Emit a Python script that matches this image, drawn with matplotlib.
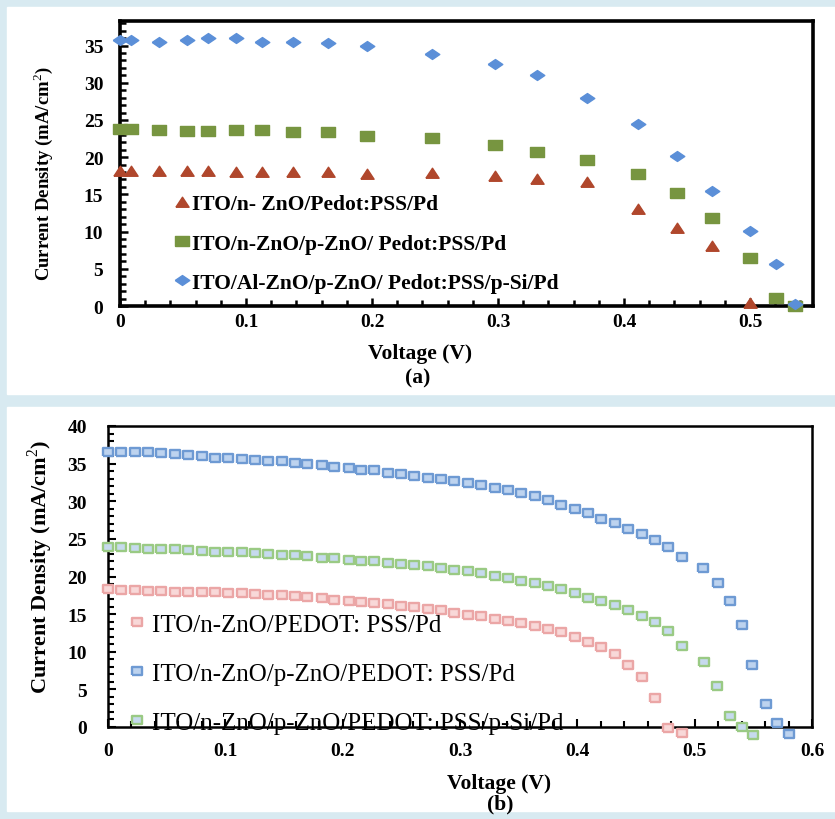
import numpy as np
import matplotlib.pyplot as plt
from matplotlib.patches import Rectangle
from matplotlib.ticker import MultipleLocator

plt.rcParams['font.family'] = ['Liberation Serif', 'DejaVu Serif']
plt.rcParams['mathtext.fontset'] = 'custom'
plt.rcParams['mathtext.rm'] = 'Liberation Serif'
plt.rcParams['mathtext.bf'] = 'Liberation Serif:bold'

# ---- panel (a) data ----
volt_a = [0.000, 0.009, 0.031, 0.053, 0.070, 0.092, 0.113, 0.137, 0.165, 0.196,
          0.248, 0.298, 0.331, 0.371, 0.411, 0.442, 0.470, 0.500, 0.521, 0.536]
red_a = [18.2, 18.2, 18.2, 18.2, 18.2, 18.0, 18.0, 18.0, 18.0, 17.8,
         17.9, 17.5, 17.0, 16.7, 13.1, 10.5, 8.1, 0.4]
green_a = [23.8, 23.8, 23.7, 23.5, 23.5, 23.7, 23.7, 23.4, 23.4, 22.9,
           22.6, 21.7, 20.7, 19.6, 17.8, 15.2, 11.8, 6.4, 1.1, 0.0]
blue_a = [35.8, 35.7, 35.5, 35.7, 36.0, 36.0, 35.5, 35.5, 35.3, 35.0,
          33.9, 32.5, 31.1, 27.9, 24.4, 20.2, 15.5, 10.1, 5.6, 0.3]
labels_a = ['ITO/n- ZnO/Pedot:PSS/Pd',
            'ITO/n-ZnO/p-ZnO/ Pedot:PSS/Pd',
            'ITO/Al-ZnO/p-ZnO/ Pedot:PSS/p-Si/Pd']

# ---- panel (b) data ----
volt_b = [0.000, 0.011, 0.023, 0.034, 0.045, 0.057, 0.068, 0.080, 0.091, 0.102,
          0.114, 0.125, 0.136, 0.148, 0.159, 0.170, 0.182, 0.193, 0.205, 0.216,
          0.227, 0.239, 0.250, 0.261, 0.273, 0.284, 0.295, 0.307, 0.318, 0.330,
          0.341, 0.352, 0.364, 0.375, 0.386, 0.398, 0.409, 0.420, 0.432, 0.443,
          0.455, 0.466, 0.477, 0.489]
red_b = [18.3, 18.2, 18.2, 18.1, 18.1, 18.0, 18.0, 17.9, 17.9, 17.8,
         17.8, 17.7, 17.6, 17.5, 17.4, 17.3, 17.1, 16.9, 16.7, 16.6,
         16.5, 16.3, 16.1, 15.9, 15.7, 15.5, 15.2, 14.9, 14.7, 14.4,
         14.1, 13.8, 13.4, 13.0, 12.6, 11.9, 11.3, 10.6, 9.7, 8.3,
         6.7, 3.9, -0.1, -0.8]
green_b = [23.9, 23.9, 23.8, 23.7, 23.7, 23.6, 23.5, 23.4, 23.3, 23.2,
           23.2, 23.1, 23.0, 22.9, 22.8, 22.7, 22.5, 22.4, 22.2, 22.1,
           22.0, 21.8, 21.7, 21.5, 21.4, 21.1, 20.9, 20.7, 20.5, 20.1,
           19.8, 19.4, 19.1, 18.7, 18.3, 17.8, 17.2, 16.8, 16.2, 15.6,
           14.8, 13.9, 12.7, 10.8]
green_tail_v = [0.508, 0.519, 0.530, 0.540, 0.550]
green_tail_j = [8.7, 5.4, 1.5, 0.0, -1.1]
blue_b = [36.6, 36.6, 36.6, 36.5, 36.4, 36.3, 36.1, 36.0, 35.8, 35.7,
          35.6, 35.5, 35.4, 35.3, 35.1, 35.0, 34.8, 34.6, 34.4, 34.2,
          34.1, 33.8, 33.6, 33.3, 33.1, 32.9, 32.7, 32.4, 32.1, 31.7,
          31.5, 31.1, 30.7, 30.2, 29.5, 29.0, 28.4, 27.7, 27.1, 26.3,
          25.6, 24.8, 23.9, 22.6]
blue_tail_v = [0.507, 0.520, 0.530, 0.540, 0.549, 0.561, 0.570, 0.580]
blue_tail_j = [21.1, 19.2, 16.8, 13.5, 8.2, 3.1, 0.5, -0.9]
labels_b = ['ITO/n-ZnO/PEDOT: PSS/Pd',
            'ITO/n-ZnO/p-ZnO/PEDOT: PSS/Pd',
            'ITO/n-ZnO/p-ZnO/PEDOT: PSS/p-Si/Pd']

# wide markers, like the stretched excel ones
diamond = [(-1, 0), (0, 0.68), (1, 0), (0, -0.68), (-1, 0)]
box = [(-1, -0.75), (1, -0.75), (1, 0.75), (-1, 0.75), (-1, -0.75)]
tri = [(-1, -0.72), (1, -0.72), (0, 0.8), (-1, -0.72)]
box_b = [(-1, -0.82), (1, -0.82), (1, 0.82), (-1, 0.82), (-1, -0.82)]

fig = plt.figure(figsize=(8.35, 8.2), dpi=100, facecolor='#D8EAF1')
fig.patches.append(Rectangle((7/835, 1-395/820), 828/835, 387/820,
                             transform=fig.transFigure, color='white', zorder=-5))
fig.patches.append(Rectangle((7/835, 1-812/820), 828/835, 404/820,
                             transform=fig.transFigure, color='white', zorder=-5))

fmt = plt.FuncFormatter(lambda v, p: '0' if v == 0 else f'{v:.1f}')

# ================= (a) =================
ax1 = fig.add_axes([120/835, 1-307/820, 693/835, 285/820])
ax1.plot(volt_a[:len(red_a)], red_a, ls='none', marker=tri, ms=9.5, color='#B0472C',
         label=labels_a[0], clip_on=False, zorder=3)
ax1.plot(volt_a, green_a, ls='none', marker=box, ms=10.5, color='#779540',
         label=labels_a[1], clip_on=False, zorder=3)
ax1.plot(volt_a, blue_a, ls='none', marker=diamond, ms=10.5, color='#5B8FD8',
         label=labels_a[2], clip_on=False, zorder=3)
ax1.set_xlim(0, 0.55)
ax1.set_ylim(0, 38.3)
ax1.xaxis.set_major_locator(MultipleLocator(0.1))
ax1.xaxis.set_minor_locator(MultipleLocator(0.02))
ax1.yaxis.set_major_locator(MultipleLocator(5))
ax1.yaxis.set_minor_locator(MultipleLocator(1))
ax1.xaxis.set_major_formatter(fmt)
for s in ax1.spines.values():
    s.set_linewidth(2.6)
ax1.tick_params(which='both', direction='in', top=False, right=False, width=1.8)
ax1.tick_params(which='major', length=6)
ax1.tick_params(which='minor', length=4)
ax1.tick_params(axis='y', pad=12)
ax1.tick_params(axis='x', pad=5)
for t in ax1.get_xticklabels() + ax1.get_yticklabels():
    t.set_fontsize(14)
    t.set_fontweight('bold')
ax1.legend(loc='upper left', bbox_to_anchor=(0.079, 0.393), frameon=False,
           prop={'weight': 'bold', 'size': 15.5}, handlelength=0.7,
           handletextpad=0.12, labelspacing=0.9, borderpad=0, borderaxespad=0)
fig.text(0.0515, 0.788, 'Current Density (mA/cm$^2$)', rotation=90,
         ha='center', va='center', fontsize=13.5, fontweight='bold')
fig.text(0.503, 0.568, 'Voltage (V)', ha='center', va='center',
         fontsize=15.5, fontweight='bold')
fig.text(0.5006, 0.539, '(a)', ha='center', va='center',
         fontsize=15.5, fontweight='bold')

# ================= (b) =================
ax2 = fig.add_axes([108/835, 1-728/820, 704/835, 301/820])
kw = dict(ls='none', marker=box_b, ms=7.2, mew=1.7, clip_on=False, zorder=3)
ax2.plot(volt_b, red_b, mec='#EBA6A6', mfc='#F8D8D8', label=labels_b[0], **kw)
ax2.plot(volt_b + blue_tail_v, blue_b + blue_tail_j, mec='#6E9AD3', mfc='#BDD3EF',
         label=labels_b[1], **kw)
ax2.plot(volt_b + green_tail_v, green_b + green_tail_j, mec='#9ACA84', mfc='#C6DAEE',
         label=labels_b[2], **kw)
ax2.set_xlim(0, 0.6)
ax2.set_ylim(0, 40)
ax2.xaxis.set_major_locator(MultipleLocator(0.1))
ax2.xaxis.set_minor_locator(MultipleLocator(0.02))
ax2.yaxis.set_major_locator(MultipleLocator(5))
ax2.yaxis.set_minor_locator(MultipleLocator(1))
ax2.xaxis.set_major_formatter(fmt)
for s in ax2.spines.values():
    s.set_linewidth(1.8)
ax2.tick_params(which='both', direction='in', top=False, right=False, width=1.5)
ax2.tick_params(which='major', length=6)
ax2.tick_params(which='minor', length=4)
ax2.tick_params(axis='y', pad=15)
ax2.tick_params(axis='x', pad=11)
for t in ax2.get_xticklabels() + ax2.get_yticklabels():
    t.set_fontsize(14)
    t.set_fontweight('bold')
ax2.legend(loc='upper left', bbox_to_anchor=(0.03, 0.378), frameon=False,
           prop={'size': 18}, handlelength=0.6, handletextpad=0.3,
           labelspacing=1.07, borderpad=0, borderaxespad=0)
fig.text(0.0479, 0.3085, 'Current Density (mA/cm$^2$)', rotation=90,
         ha='center', va='center', fontsize=16, fontweight='bold')
fig.text(0.5976, 0.0445, 'Voltage (V)', ha='center', va='center',
         fontsize=15.5, fontweight='bold')
fig.text(0.5988, 0.0195, '(b)', ha='center', va='center',
         fontsize=15.5, fontweight='bold')

fig.savefig('out.png', dpi=100, facecolor=fig.get_facecolor())
